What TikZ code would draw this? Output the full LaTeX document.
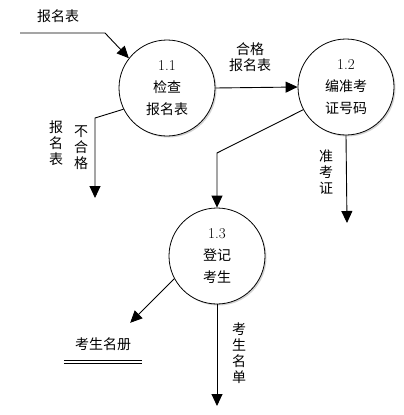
\documentclass[tikz,border=0pt]{standalone}
\usepackage{fontspec}
\newfontfamily\cjk{Noto Sans CJK SC}
\usepackage{tikz}
\usetikzlibrary{arrows.meta}
\usetikzlibrary{shadows}

\tikzset{
  proc/.style={circle, draw, line width=0.8pt, fill=white, minimum size=96pt, inner sep=0pt, align=center,
     font=\cjk\fontsize{14}{22}\selectfont,
     drop shadow={shadow xshift=1.5pt, shadow yshift=-1.5pt, fill=gray!70}},
  flow/.style={line width=0.9pt, -{Triangle[length=12pt,width=11pt]}},
  lab/.style={font=\cjk\fontsize{14}{16}\selectfont, align=center, inner sep=0pt},
}

\begin{document}
\begin{tikzpicture}[x=1pt,y=-1pt]
\useasboundingbox (0,0) rectangle (404,415);
% processes
\node[proc] (p11) at (167,88) {{\rmfamily\fontsize{15}{22}\selectfont 1.1}\\检查\\报名表};
\node[proc] (p12) at (346,87) {{\rmfamily\fontsize{15}{22}\selectfont 1.2}\\编准考\\证号码};
\node[proc] (p13) at (217,256) {{\rmfamily\fontsize{15}{22}\selectfont 1.3}\\登记\\考生};
% data store
\node[lab, minimum width=78pt, minimum height=18pt] (store) at (103,344) {考生名册};
\draw[line width=0.8pt] ([yshift=-7pt]store.south west) -- ([yshift=-7pt]store.south east);
\draw[line width=0.8pt] ([yshift=-10pt]store.south west) -- ([yshift=-10pt]store.south east);
% free ends
\coordinate (src) at (20,33);
\coordinate (bad) at (95,198);
\coordinate (card) at (347,223);
\coordinate (list) at (217,406);
% flows
\draw[flow] (src) -- (105,33) -- (p11.142);
\draw[flow] (p11.east) -- (p12.west);
\draw[flow] (p11.206) -- (95,118) -- (bad);
\draw[flow] (p12.208) -- (217,153) -- (p13.north);
\draw[flow] (p12.south) -- (card);
\draw[flow] (p13.208) -- ([xshift=-12pt,yshift=12pt]store.north east);
\draw[flow] (p13.south) -- (list);
% labels
\node[lab] (l1) at (58,16) {报名表};
\node[lab] (l2) at (250,57) {合格\\报名表};
\node[lab] (l3) at (56,143) {报\\名\\表};
\node[lab] (l4) at (81,148) {不\\合\\格};
\node[lab] (l5) at (326,172) {准\\考\\证};
\node[lab] (l6) at (239,353) {考\\生\\名\\单};
\end{tikzpicture}
\end{document}
